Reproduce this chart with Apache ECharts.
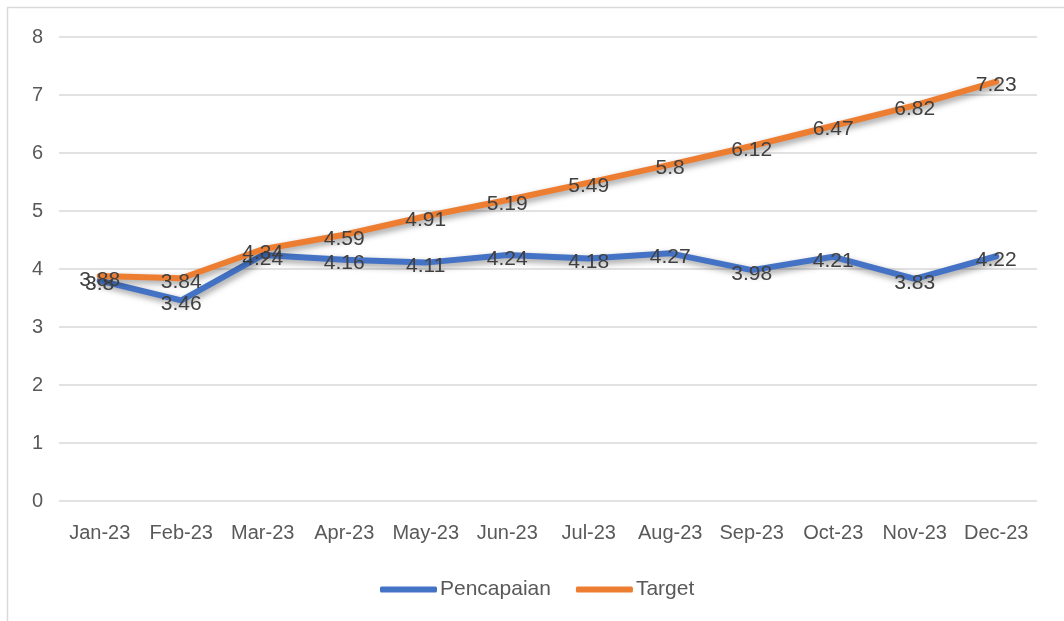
<!DOCTYPE html>
<html>
<head>
<meta charset="utf-8">
<script src="https://cdn.jsdelivr.net/npm/echarts@6/dist/echarts.min.js"></script>
<style>html,body{margin:0;padding:0;background:#fff;}#c{width:1064px;height:621px;}</style>
</head>
<body>
<div id="c"></div>
<script>
const categories = ['Jan-23','Feb-23','Mar-23','Apr-23','May-23','Jun-23','Jul-23','Aug-23','Sep-23','Oct-23','Nov-23','Dec-23'];
const pencapaian = [3.8, 3.46, 4.24, 4.16, 4.11, 4.24, 4.18, 4.27, 3.98, 4.21, 3.83, 4.22];
const target = [3.88, 3.84, 4.34, 4.59, 4.91, 5.19, 5.49, 5.8, 6.12, 6.47, 6.82, 7.23];
const yTicks = [0, 1, 2, 3, 4, 5, 6, 7, 8];

const FONT = '"Liberation Sans", Arial, sans-serif';
const chart = echarts.init(document.getElementById('c'), null, {renderer: 'canvas'});
function mkSeries(name, data, color, z) {
  return {
    name: name, type: 'line', data: data, z: z,
    symbol: 'circle', symbolSize: 0.1, showSymbol: true, smooth: false,
    lineStyle: {color: color, width: 6, cap: 'round', join: 'round',
      shadowColor: 'rgba(0,0,0,0.4)', shadowBlur: 6, shadowOffsetX: 2, shadowOffsetY: 3},
    itemStyle: {color: color},
    label: {show: true, position: [0, 4], align: 'center', verticalAlign: 'middle',
      color: '#404040', fontSize: 21, fontFamily: FONT,
      formatter: p => String(p.value)},
    labelLayout: {hideOverlap: false},
    emphasis: {disabled: true}
  };
}
chart.setOption({
  animation: false,
  backgroundColor: '#fff',
  graphic: [{type: 'rect', shape: {x: 7.5, y: 7.5, width: 1100, height: 700},
    style: {fill: 'none', stroke: '#d9d9d9', lineWidth: 1.5}, silent: true, z: -10}],
  grid: {left: 59, right: 27, top: 37, bottom: 120, containLabel: false},
  legend: {
    data: ['Pencapaian', 'Target'], left: 375, top: 574,
    itemWidth: 57, itemHeight: 6, itemGap: 25, icon: 'roundRect',
    textStyle: {color: '#595959', fontSize: 21, fontFamily: FONT, padding: [0, 0, 0, -2]}
  },
  xAxis: {
    type: 'category', data: categories, boundaryGap: true,
    axisLine: {show: false}, axisTick: {show: false},
    axisLabel: {color: '#595959', fontSize: 20, fontFamily: FONT, margin: 22, interval: 0}
  },
  yAxis: {
    type: 'value', min: yTicks[0], max: yTicks[yTicks.length - 1], interval: 1,
    axisLine: {show: false}, axisTick: {show: false},
    axisLabel: {color: '#595959', fontSize: 20, fontFamily: FONT, margin: 16},
    splitLine: {lineStyle: {color: '#d9d9d9', width: 1.5}}
  },
  series: [
    mkSeries('Pencapaian', pencapaian, '#4472C4', 2),
    mkSeries('Target', target, '#ED7D31', 3)
  ]
});
</script>
</body>
</html>
